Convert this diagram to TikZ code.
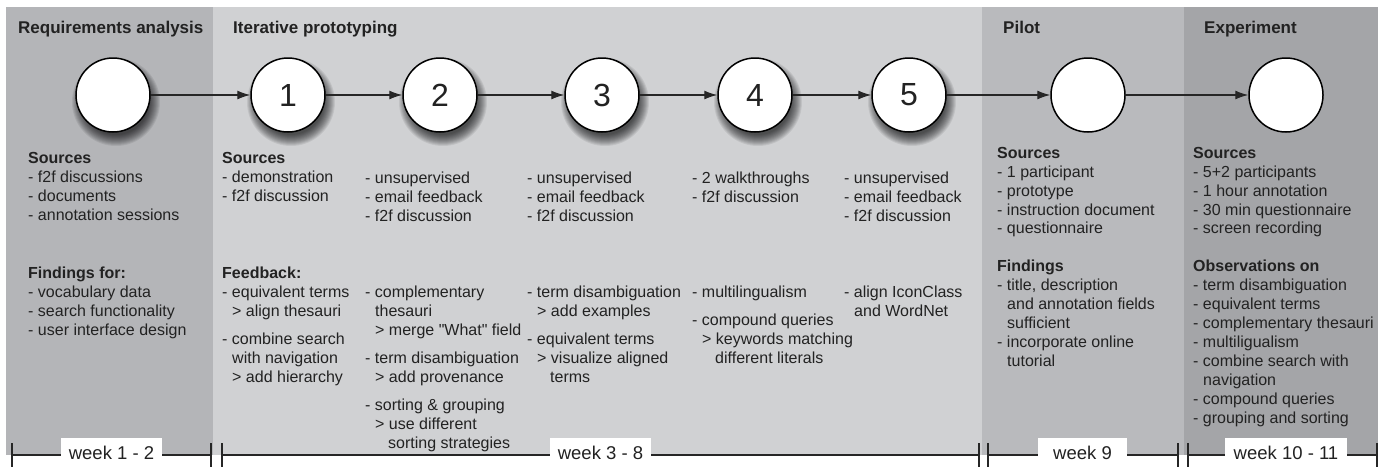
\documentclass[tikz,border=0pt]{standalone}
\usepackage{fontspec}
\setmainfont{Liberation Sans}
\usetikzlibrary{arrows.meta}
\definecolor{reqgray}{RGB}{180,181,184}
\definecolor{itergray}{RGB}{208,209,211}
\definecolor{pilotgray}{RGB}{185,186,189}
\definecolor{expgray}{RGB}{164,165,168}
\definecolor{textc}{RGB}{34,34,34}
\newcommand{\ia}{\hspace*{10pt}}
\newcommand{\ib}{\hspace*{23pt}}
\begin{document}
\begin{tikzpicture}[x=1pt,y=-1pt,
  txt/.style={anchor=north west,inner sep=0pt,align=left,font=\fontsize{16}{18.9}\selectfont,text=textc},
  ttl/.style={anchor=base west,inner sep=0pt,font=\fontsize{17}{20}\selectfont\bfseries,text=textc},
  stage/.style={circle,draw=black,line width=1.5pt,fill=white,minimum size=74pt,inner sep=0pt,font=\fontsize{32}{32}\selectfont,text=textc},
  blur/.style={fill=black,opacity=0.075},
  flow/.style={line width=1.2pt,draw=black!85,-{Latex[length=13pt,width=9pt]}},
  tl/.style={line width=1.3pt,draw=black!85},
  week/.style={fill=white,inner sep=0pt,minimum height=29pt,font=\fontsize{18.5}{20}\selectfont,text=textc}]
\useasboundingbox (0,0) rectangle (1384,467);
\fill[white] (0,0) rectangle (1384,467);
% panels
\fill[reqgray] (6,7) rectangle (213,455);
\fill[itergray] (213,7) rectangle (982,455);
\fill[pilotgray] (982,7) rectangle (1184,455);
\fill[expgray] (1184,7) rectangle (1378,455);
% titles
\node[ttl] (t1) at (18,33) {Requirements analysis};
\node[ttl] (t2) at (233,33) {Iterative prototyping};
\node[ttl] (t3) at (1003,33) {Pilot};
\node[ttl] (t4) at (1204,33) {Experiment};
% soft shadows of the first six stages
\foreach \cx in {113,288,440,602,755,909}{
  \foreach \r in {44,43,...,33}{
    \fill[blur] (\cx+3,102) circle[radius=\r];
  }
}
% stages
\node[stage] (c0) at (113,95) {};
\node[stage] (c1) at (288,95) {1};
\node[stage] (c2) at (440,95) {2};
\node[stage] (c3) at (602,95) {3};
\node[stage] (c4) at (755,95) {4};
\node[stage] (c5) at (909,95) {5};
\node[stage] (c6) at (1088,95) {};
\node[stage] (c7) at (1286,95) {};
\draw[flow] (c0) -- (c1);
\draw[flow] (c1) -- (c2);
\draw[flow] (c2) -- (c3);
\draw[flow] (c3) -- (c4);
\draw[flow] (c4) -- (c5);
\draw[flow] (c5) -- (c6);
\draw[flow] (c6) -- (c7);
% requirements
\node[txt] (rs) at (28,152) {\textbf{Sources}\\- f2f discussions\\- documents\\- annotation sessions};
\node[txt] (rf) at (28,267) {\textbf{Findings for:}\\- vocabulary data\\- search functionality\\- user interface design};
% iteration 1
\node[txt] (s1) at (222,152) {\textbf{Sources}\\- demonstration\\- f2f discussion};
\node[txt] (f1) at (222,267) {\textbf{Feedback:}\\- equivalent terms\\\ia> align thesauri\\[9pt]- combine search\\\ia with navigation\\\ia> add hierarchy};
% iteration 2
\node[txt] (s2) at (365,172) {- unsupervised\\- email feedback\\- f2f discussion};
\node[txt] (f2) at (365,286) {- complementary\\\ia thesauri\\\ia> merge \textquotedbl What\textquotedbl{} field\\[9pt]- term disambiguation\\\ia> add provenance\\[9pt]- sorting \& grouping\\\ia> use different\\\ib sorting strategies};
% iteration 3
\node[txt] (s3) at (527,172) {- unsupervised\\- email feedback\\- f2f discussion};
\node[txt] (f3) at (527,286) {- term disambiguation\\\ia> add examples\\[9pt]- equivalent terms\\\ia> visualize aligned\\\ib terms};
% iteration 4
\node[txt] (s4) at (692,172) {- 2 walkthroughs\\- f2f discussion};
\node[txt] (f4) at (692,286) {- multilingualism\\[9pt]- compound queries\\\ia> keywords matching\\\ib different literals};
% iteration 5
\node[txt] (s5) at (844,172) {- unsupervised\\- email feedback\\- f2f discussion};
\node[txt] (f5) at (844,286) {- align IconClass\\\ia and WordNet};
% pilot
\node[txt] (ps) at (997,147) {\textbf{Sources}\\- 1 participant\\- prototype\\- instruction document\\- questionnaire};
\node[txt] (pf) at (997,260) {\textbf{Findings}\\- title, description\\\ia and annotation fields\\\ia sufficient\\- incorporate online\\\ia tutorial};
% experiment
\node[txt] (es) at (1193,147) {\textbf{Sources}\\- 5+2 participants\\- 1 hour annotation\\- 30 min questionnaire\\- screen recording};
\node[txt] (eo) at (1193,260) {\textbf{Observations on}\\- term disambiguation\\- equivalent terms\\- complementary thesauri\\- multiligualism\\- combine search with\\\ia navigation\\- compound queries\\- grouping and sorting};
% timeline
\foreach \a/\b in {12/211,222/979,988/1178,1188/1377}{
  \draw[tl] (\a,455) -- (\b,455);
  \draw[tl] (\a,443) -- (\a,467);
  \draw[tl] (\b,443) -- (\b,467);
}
\node[week,minimum width=101pt] (w1) at (111.5,452.5) {week 1 - 2};
\node[week,minimum width=101pt] (w2) at (600.5,452.5) {week 3 - 8};
\node[week,minimum width=89pt] (w3) at (1082.5,452.5) {week 9};
\node[week,minimum width=122pt] (w4) at (1286,452.5) {week 10 - 11};
\end{tikzpicture}
\end{document}
